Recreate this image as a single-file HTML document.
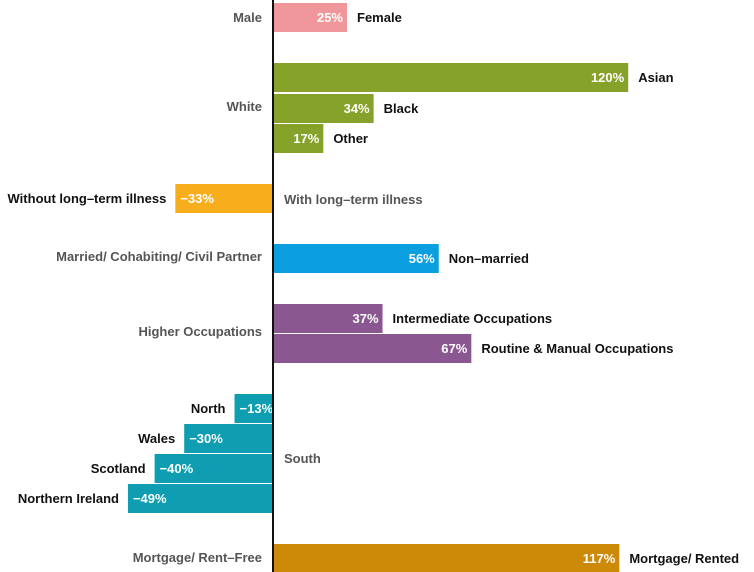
<!DOCTYPE html>
<html><head><meta charset="utf-8"><style>
html,body{margin:0;padding:0;background:#fff;}
svg{display:block;font-family:"Liberation Sans",sans-serif;font-weight:bold;font-size:13px;}
</style></head><body>
<svg id="chart" width="754" height="572" viewBox="0 0 754 572" xmlns="http://www.w3.org/2000/svg"></svg>
<script>
const categories = ["Female","Asian","Black","Other","Without long-term illness","Non-married","Intermediate Occupations","Routine & Manual  Occupations","North","Wales","Scotland","Northern Ireland","Mortgage/ Rented"];
const values = [25,120,34,17,-33,56,37,67,-13,-30,-40,-49,117];
const groupIndex = [0,1,1,1,2,3,4,4,5,5,5,5,6];
const rowTops = [3,63,94,124,184,244,304,334,394,424,454,484,544];
const groupColors = ["#f0979c","#86a22b","#f8ad1d","#0b9fdf","#8b5791","#0e9db1","#cc8a08"];
const baseLabels = ["Male","White","With long-term illness","Married/ Cohabiting/ Civil Partner","Higher Occupations","South","Mortgage/ Rent-Free"];
const baseLabelY = [22,111,204,261,336,463,562];
const baseLabelSide = ["left","left","right","left","left","right","left"];

const svg = document.getElementById('chart');
const NS = "http://www.w3.org/2000/svg";
const x0 = 273, scale = 2.96, barH = 29;
function xPos(v){ return x0 + v*scale; }

function mk(tag, attrs){
  const el = document.createElementNS(NS, tag);
  for (const k in attrs) el.setAttribute(k, attrs[k]);
  svg.appendChild(el);
  return el;
}

values.forEach((v,i)=>{
  const y = rowTops[i];
  const xa = Math.min(xPos(0), xPos(v)), xb = Math.max(xPos(0), xPos(v));
  const r = mk('rect',{x:xa,y:y,width:xb-xa,height:barH,fill:groupColors[groupIndex[i]]});
  
  
  const ty = y + barH/2 + 4.5;
  const vt = mk('text',{x: v>=0 ? xb-4 : xa+5, y:ty, fill:'#fff', 'text-anchor': v>=0?'end':'start'});
  vt.textContent = (v<0?'\u2212':'') + Math.abs(v) + '%';
  
  
  const ct = mk('text',{x: v>=0 ? xb+10 : xa-9, y:ty, fill:'#111', 'text-anchor': v>=0?'start':'end'});
  ct.textContent = categories[i].replace(/-/g,'\u2013');
  
  
});

baseLabels.forEach((t,i)=>{
  const left = baseLabelSide[i]==='left';
  const el = mk('text',{x: left ? 262 : 284, y: baseLabelY[i], fill:'#555', 'text-anchor': left?'end':'start'});
  el.textContent = t.replace(/-/g,'\u2013');
  
  
});

const ax = mk('line',{x1:x0,y1:0,x2:x0,y2:572,stroke:'#111','stroke-width':2});


</script>
</body></html>
